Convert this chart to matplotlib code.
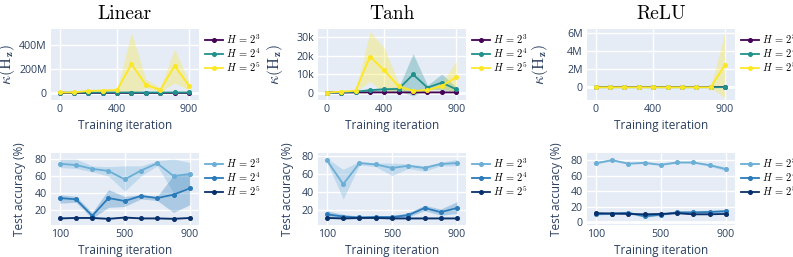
import matplotlib

matplotlib.use("Agg")
import matplotlib.pyplot as plt
from matplotlib.ticker import FuncFormatter


TEXT = "#2a3f5f"
BG = "#e5ecf6"
VIRIDIS = ["#440154", "#21918c", "#fde725"]
BLUES = ["#6baed6", "#2b7bba", "#08306b"]
LABELS = [r"$H\,=\,2^3$", r"$H\,=\,2^4$", r"$H\,=\,2^5$"]

# condition number of H_z, top row (x = training iteration)
ITER_TOP = [0, 100, 200, 300, 400, 500, 600, 700, 800, 900]

# Linear, values in millions
LIN_K3 = [0, 0, 0, 0, 0, 0, 0, 0, 0, 0]
LIN_K3_LO = [0, 0, 0, 0, 0, 0, 0, 0, 0, 0]
LIN_K3_HI = [0, 0, 0, 0, 0, 0, 0, 0, 0, 0]
LIN_K4 = [0, 0, 0.2, 0.3, 0.3, 0.4, 0.4, 0.4, 0.5, 0.5]
LIN_K4_LO = [0, 0, 0.1, 0.1, 0.1, 0.2, 0.2, 0.2, 0.2, 0.2]
LIN_K4_HI = [0, 0, 0.3, 0.5, 0.5, 0.6, 0.6, 0.6, 0.8, 0.8]
LIN_K5 = [0.5, 1, 14, 17, 22, 238, 64, 22, 224, 56]
LIN_K5_LO = [0, 0, 8, 10, 12, -20, 40, 5, 80, 22]
LIN_K5_HI = [1, 2, 20, 24, 32, 505, 110, 42, 364, 90]

# Tanh, values in thousands
TANH_K3 = [0, 0, 0.1, 0.1, 0.1, 0.1, 0.1, 0.1, 0.1, 0.1]
TANH_K3_LO = [0, 0, 0, 0, 0, 0, 0, 0, 0, 0]
TANH_K3_HI = [0, 0, 0.2, 0.2, 0.2, 0.2, 0.2, 0.2, 0.2, 0.2]
TANH_K4 = [0, 0, 0.5, 1.3, 1.8, 2.0, 9.8, 2.7, 5.4, 1.8]
TANH_K4_LO = [0, 0, 0.2, 0.5, 1.0, 1.0, -1.8, 1.8, 1.5, 0.8]
TANH_K4_HI = [0, 0.1, 0.8, 2.1, 2.6, 3.0, 21, 4.0, 10, 3.0]
TANH_K5 = [0, 0.5, 1, 19.5, 12, 3.3, 0.9, 1.4, 3.6, 8.3]
TANH_K5_LO = [0, 0.2, 0.5, 6, 0, 1.5, 0.3, 0.8, 2.0, 0]
TANH_K5_HI = [0, 0.8, 1.5, 33, 24, 5, 1.5, 2, 5.2, 17]

# ReLU, values in millions
RELU_K3 = [0, 0, 0, 0, 0, 0, 0, 0, 0, 0]
RELU_K3_LO = [0, 0, 0, 0, 0, 0, 0, 0, 0, 0]
RELU_K3_HI = [0, 0, 0, 0, 0, 0, 0, 0, 0, 0]
RELU_K4 = [0, 0, 0, 0, 0, 0, 0, 0, 0, 0.01]
RELU_K4_LO = [0, 0, 0, 0, 0, 0, 0, 0, 0, 0]
RELU_K4_HI = [0, 0, 0, 0, 0, 0, 0, 0, 0, 0.02]
RELU_K5 = [0, 0, 0, 0, 0, 0, 0, 0, 0, 2.5]
RELU_K5_LO = [0, 0, 0, 0, 0, 0, 0, 0, 0, -1.2]
RELU_K5_HI = [0, 0, 0, 0, 0, 0, 0, 0, 0, 6.2]

# test accuracy (%), bottom row
ITER_BOT = [100, 200, 300, 400, 500, 600, 700, 800, 900]

LIN_A3 = [74.5, 73, 68.5, 66, 56, 66.5, 75, 60, 62.5]
LIN_A3_LO = [70, 69, 65, 60, 42, 60, 72, 40, 48]
LIN_A3_HI = [80, 80, 72, 71, 72, 72, 78, 80, 76]
LIN_A4 = [34, 32.5, 13, 34, 30.5, 36.5, 34, 38, 45.5]
LIN_A4_LO = [28, 29, 10, 23, 24, 33, 31, 17, 26]
LIN_A4_HI = [38, 36, 17, 44, 36, 38, 36, 61, 63]
LIN_A5 = [10, 10.5, 10.5, 9.5, 11, 10, 10, 9.5, 10.5]
LIN_A5_LO = [9.3, 9.8, 9.8, 8.8, 10.2, 9.3, 9.3, 8.8, 9.8]
LIN_A5_HI = [10.7, 11.2, 11.2, 10.2, 11.8, 10.7, 10.7, 10.2, 11.2]

TANH_A3 = [75, 48.5, 72, 70.5, 66.5, 69, 66.5, 71, 72]
TANH_A3_LO = [73, 32, 70, 68, 58, 66, 63, 69, 69]
TANH_A3_HI = [77, 65, 74, 72, 72, 71, 69, 73, 76]
TANH_A4 = [15, 12.5, 11.5, 12, 12, 14, 22, 17.5, 22]
TANH_A4_LO = [11, 10, 10, 10.5, 10.5, 12, 19, 14, 16]
TANH_A4_HI = [19, 15, 13, 13.5, 13.5, 17, 25, 21, 29]
TANH_A5 = [11, 10.5, 11, 11, 10.5, 10.5, 10.5, 10.5, 10.5]
TANH_A5_LO = [10.3, 9.8, 10.3, 10.3, 9.8, 9.8, 9.8, 9.8, 9.8]
TANH_A5_HI = [11.7, 11.2, 11.7, 11.7, 11.2, 11.2, 11.2, 11.2, 11.2]

RELU_A3 = [76, 80, 75.5, 76.5, 74, 77, 77, 73.5, 68.5]
RELU_A3_LO = [75, 79, 74.5, 75.5, 73, 76, 76, 72, 66]
RELU_A3_HI = [77, 81, 76.5, 77.5, 75, 78, 78, 75, 71]
RELU_A4 = [10, 11, 12, 7.5, 9.5, 12.5, 12.5, 13, 14]
RELU_A4_LO = [9, 10, 10.5, 6, 8.5, 11, 11, 11, 12]
RELU_A4_HI = [11, 12, 13.5, 9, 10.5, 14, 14, 15, 16]
RELU_A5 = [11.5, 11, 10.5, 10, 10.5, 11.5, 10, 10, 10.5]
RELU_A5_LO = [11, 10.5, 10, 9.5, 10, 11, 9.5, 9.5, 10]
RELU_A5_HI = [12, 11.5, 11, 10.5, 11, 12, 10.5, 10.5, 11]


def style_axes(ax, xticks, xlim, ylim, yticks, fmt):
    ax.set_facecolor(BG)
    for spine in ax.spines.values():
        spine.set_visible(False)
    ax.set_xlim(*xlim)
    ax.set_ylim(*ylim)
    ax.set_xticks(xticks)
    ax.set_yticks(yticks)
    ax.yaxis.set_major_formatter(FuncFormatter(fmt))
    ax.grid(True, color="white", linewidth=1.0)
    ax.set_axisbelow(True)
    if ylim[0] < 0 < ylim[1]:
        ax.axhline(0, color="white", linewidth=2.0, zorder=0.6)
    ax.tick_params(length=0, labelsize=7.7, labelcolor=TEXT, pad=3)
    ax.set_xlabel("Training iteration", fontsize=8.5, color=TEXT, labelpad=3)


def draw_series(ax, x, series, colors):
    for (mean, lo, hi), color, label in zip(series, colors, LABELS):
        ax.fill_between(x, lo, hi, color=color, alpha=0.3, linewidth=0, zorder=1)
        ax.plot(x, mean, color=color, linewidth=1.3, marker="o", markersize=2.6,
                label=label, zorder=2)
    ax.legend(loc="upper left", bbox_to_anchor=(1.0, 1.03), frameon=False,
              fontsize=7.5, handlelength=1.7, labelspacing=0.05, handletextpad=0.3,
              borderaxespad=0.2)


def fmt_suffix(suffix):
    return lambda v, _: "0" if v == 0 else f"{v:g}{suffix}"


def main():
    plt.rcParams["font.family"] = ["Open Sans", "DejaVu Sans"]
    plt.rcParams["mathtext.fontset"] = "cm"

    fig = plt.figure(figsize=(7.93, 2.57), dpi=100)
    lefts = [0.064, 0.401, 0.740]
    width = 0.1866
    top_label_x = [-0.225, -0.225, -0.25]
    bot_label_x = [-0.17, -0.16, -0.16]

    top = [
        ("Linear", [(LIN_K3, LIN_K3_LO, LIN_K3_HI), (LIN_K4, LIN_K4_LO, LIN_K4_HI),
                    (LIN_K5, LIN_K5_LO, LIN_K5_HI)], (-62, 531), [0, 200, 400], "M"),
        ("Tanh", [(TANH_K3, TANH_K3_LO, TANH_K3_HI), (TANH_K4, TANH_K4_LO, TANH_K4_HI),
                  (TANH_K5, TANH_K5_LO, TANH_K5_HI)], (-4, 34.4), [0, 10, 20, 30], "k"),
        ("ReLU", [(RELU_K3, RELU_K3_LO, RELU_K3_HI), (RELU_K4, RELU_K4_LO, RELU_K4_HI),
                  (RELU_K5, RELU_K5_LO, RELU_K5_HI)], (-1.4, 6.44), [0, 2, 4, 6], "M"),
    ]
    bottom = [
        ([(LIN_A3, LIN_A3_LO, LIN_A3_HI), (LIN_A4, LIN_A4_LO, LIN_A4_HI),
          (LIN_A5, LIN_A5_LO, LIN_A5_HI)], (2, 87), [20, 40, 60, 80]),
        ([(TANH_A3, TANH_A3_LO, TANH_A3_HI), (TANH_A4, TANH_A4_LO, TANH_A4_HI),
          (TANH_A5, TANH_A5_LO, TANH_A5_HI)], (3, 83), [20, 40, 60, 80]),
        ([(RELU_A3, RELU_A3_LO, RELU_A3_HI), (RELU_A4, RELU_A4_LO, RELU_A4_HI),
          (RELU_A5, RELU_A5_LO, RELU_A5_HI)], (-4, 89), [0, 20, 40, 60, 80]),
    ]

    for left, lx, (title, series, ylim, yticks, suffix) in zip(lefts, top_label_x, top):
        ax = fig.add_axes([left, 0.611, width, 0.276])
        style_axes(ax, [0, 400, 900], (-62, 968), ylim, yticks, fmt_suffix(suffix))
        draw_series(ax, ITER_TOP, series, VIRIDIS)
        ax.set_title(title, fontfamily="cmr10", fontsize=14, pad=7)
        ax.set_ylabel(r"$\kappa(\mathrm{H}_{\mathbf{z}})$", fontsize=11.5, color=TEXT)
        ax.yaxis.set_label_coords(lx, 0.5)

    for left, lx, (series, ylim, yticks) in zip(lefts, bot_label_x, bottom):
        ax = fig.add_axes([left, 0.124, width, 0.28])
        style_axes(ax, [100, 500, 900], (45, 955), ylim, yticks, lambda v, _: f"{v:g}")
        draw_series(ax, ITER_BOT, series, BLUES)
        ax.set_ylabel("Test accuracy (%)", fontsize=8.5, color=TEXT)
        ax.yaxis.set_label_coords(lx, 0.5)

    fig.savefig("out.png", dpi=100)


if __name__ == "__main__":
    main()
